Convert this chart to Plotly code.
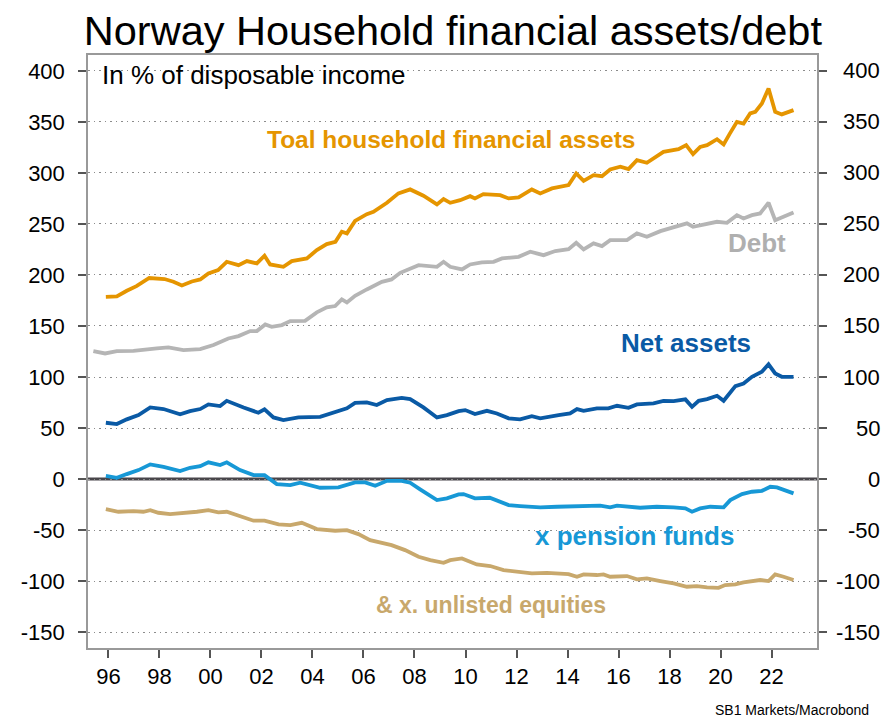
import plotly.graph_objects as go

# Quarterly-ish readings, decimal years, % of disposable income
assets_x = [1995.9, 1996.33, 1996.72, 1997.1, 1997.6, 1998.2, 1998.55, 1998.88, 1999.27, 1999.6,
            1999.92, 2000.3, 2000.64, 2001.1, 2001.43, 2001.82, 2002.12, 2002.34, 2002.86, 2003.19,
            2003.78, 2004.17, 2004.56, 2004.9, 2005.15, 2005.35, 2005.67, 2006.13, 2006.39, 2006.92,
            2007.37, 2007.83, 2008.35, 2008.88, 2009.14, 2009.4, 2009.79, 2010.18, 2010.37, 2010.7,
            2011.36, 2011.69, 2012.08, 2012.6, 2012.93, 2013.39, 2014.04, 2014.34, 2014.63, 2015.02,
            2015.35, 2015.67, 2016.07, 2016.39, 2016.72, 2017.11, 2017.76, 2018.35, 2018.65, 2018.92,
            2019.2, 2019.47, 2019.86, 2020.12, 2020.35, 2020.64, 2020.9, 2021.16, 2021.36, 2021.62,
            2021.88, 2022.14, 2022.4, 2022.86]
assets = [178.6, 179, 184.5, 189, 197, 196, 193.3, 189.7, 193.6, 195.6,
          201.5, 204.7, 212.9, 209.6, 213.6, 211.3, 218.8, 210.3, 208, 213.6,
          216.2, 224.3, 230.2, 232.5, 242.3, 240.7, 253, 259.6, 261.9, 270.7,
          279.9, 283.8, 277.6, 269.1, 274.3, 270.7, 273.3, 277.2, 275, 279.2,
          278.2, 275, 276, 283.8, 279.9, 284.8, 288, 299.5, 292.2, 297.8,
          296.8, 303.4, 306, 303.7, 312.5, 309.9, 320.6, 323.3, 327.2, 318.4,
          325.5, 327.2, 333, 327.9, 338, 350, 348.4, 358.2, 359.8, 368,
          382.7, 359.8, 357.3, 361.5]

debt_x = [1995.41, 1995.87, 1996.33, 1996.98, 1997.9, 1998.35, 1998.94, 1999.6, 2000.12, 2000.7,
          2001.1, 2001.56, 2001.82, 2002.15, 2002.4, 2002.8, 2003.13, 2003.71, 2004.17, 2004.56,
          2004.89, 2005.15, 2005.35, 2005.67, 2006.13, 2006.72, 2007.1, 2007.44, 2008.16, 2008.88,
          2009.14, 2009.4, 2009.86, 2010.18, 2010.64, 2011.1, 2011.43, 2012.08, 2012.54, 2013.06,
          2013.52, 2014.04, 2014.34, 2014.63, 2015.02, 2015.35, 2015.67, 2016.33, 2016.72, 2017.11,
          2017.64, 2018.16, 2018.68, 2018.92, 2019.47, 2019.86, 2020.25, 2020.64, 2020.9, 2021.23,
          2021.55, 2021.88, 2022.14, 2022.47, 2022.86]
debt = [125.4, 123.1, 125.4, 125.7, 128, 129, 126.4, 127.4, 131.3, 137.8,
        140.1, 145, 145, 151.5, 149.2, 150.9, 154.8, 155.1, 163.3, 168.2,
        169.5, 176, 173.1, 179.6, 185.8, 193.3, 195.6, 202.1, 209.6, 208,
        212.9, 208, 205.4, 210.3, 212.3, 212.9, 216.2, 217.8, 222.7, 219.4,
        223.4, 225.3, 231.5, 225, 230.9, 228.3, 234.1, 234.1, 240.7, 237.4,
        242.9, 246.5, 250.5, 247.2, 249.8, 252.1, 251.1, 258.6, 255.4, 258.6,
        260.3, 270.7, 253.7, 257, 261.3]

net_x = [1995.9, 1996.33, 1996.72, 1997.18, 1997.64, 1998.16, 1998.81, 1999.2, 1999.6, 1999.92,
         2000.38, 2000.64, 2001.3, 2001.88, 2002.12, 2002.47, 2002.86, 2003.45, 2004.3, 2004.82,
         2005.35, 2005.67, 2006.13, 2006.52, 2006.92, 2007.5, 2007.83, 2008.35, 2008.88, 2009.27,
         2009.73, 2009.99, 2010.37, 2010.84, 2011.23, 2011.69, 2012.14, 2012.6, 2012.93, 2013.65,
         2014.1, 2014.37, 2014.63, 2015.15, 2015.6, 2015.94, 2016.39, 2016.72, 2017.37, 2017.76,
         2018.16, 2018.62, 2018.88, 2019.14, 2019.47, 2019.86, 2020.12, 2020.58, 2020.9, 2021.23,
         2021.62, 2021.88, 2022.14, 2022.4, 2022.86]
net = [55.2, 53.9, 58.5, 62.7, 70.2, 68.6, 63.4, 66.6, 68.6, 73.2,
       71.5, 76.7, 70.2, 65, 68.3, 60.4, 57.8, 60.4, 61, 65,
       69.3, 74.7, 75.1, 72.5, 77.4, 79.6, 78.4, 70.2, 60.4, 62.7,
       66.6, 67.6, 63.7, 66.9, 64.3, 59.5, 58.5, 61.7, 59.5, 62.7,
       64.3, 68.6, 66.9, 69.3, 69.3, 71.8, 69.8, 73.2, 74.2, 76.7,
       76.4, 78.1, 70.8, 76.7, 78.4, 81.6, 76.7, 91.1, 93.7, 100.2,
       105.1, 112.4, 103.5, 100.2, 100.2]

pension_x = [1995.9, 1996.33, 1996.72, 1997.18, 1997.64, 1998.16, 1998.81, 1999.2, 1999.6, 1999.92,
             2000.38, 2000.64, 2001.16, 2001.69, 2002.12, 2002.6, 2003.13, 2003.52, 2004.3, 2005.02,
             2005.67, 2006.07, 2006.46, 2006.92, 2007.5, 2007.83, 2008.22, 2008.88, 2009.27, 2009.73,
             2009.92, 2010.37, 2010.95, 2011.69, 2012.14, 2012.93, 2013.59, 2014.63, 2015.28, 2015.67,
             2015.94, 2016.85, 2017.5, 2018.16, 2018.62, 2018.88, 2019.2, 2019.6, 2020.12, 2020.38,
             2020.84, 2021.23, 2021.62, 2021.95, 2022.21, 2022.86]
pension = [3.2, 1.3, 4.9, 8.8, 14.4, 12, 7.8, 11.1, 12.7, 16.4,
           13.7, 16.4, 8.8, 3.9, 3.9, -4.9, -5.9, -3.6, -8.5, -8.1,
           -3.2, -3.2, -6.6, -1.7, -1.7, -3.6, -10.1, -20.6, -18.9, -15,
           -14.7, -18.9, -18.3, -25.5, -26.4, -27.7, -27.1, -26.1, -26.1, -27.7,
           -26.1, -28.1, -27.1, -27.7, -28.7, -32, -28.7, -27.1, -27.7, -20.6,
           -14.7, -12.4, -11.5, -7.5, -8.1, -14]

unlisted_x = [1995.9, 1996.39, 1996.98, 1997.37, 1997.64, 1997.96, 1998.42, 1998.88, 1999.47, 1999.92,
              2000.31, 2000.64, 2001.16, 2001.69, 2002.12, 2002.67, 2003.13, 2003.58, 2004.17, 2004.89,
              2005.35, 2005.8, 2006.26, 2006.72, 2007.1, 2007.63, 2008.16, 2008.62, 2009.14, 2009.4,
              2009.86, 2010.44, 2010.97, 2011.49, 2012.14, 2012.6, 2013.19, 2014.04, 2014.37, 2014.63,
              2015.15, 2015.41, 2015.67, 2016.33, 2016.72, 2017.11, 2017.64, 2018.16, 2018.68, 2019.07,
              2019.47, 2019.92, 2020.18, 2020.58, 2020.9, 2021.55, 2021.88, 2022.14, 2022.47, 2022.86]
unlisted = [-29.4, -32, -31.3, -32, -30.4, -33, -34.3, -33.6, -32, -30.4,
            -32.6, -32, -36.2, -40.8, -40.8, -44.4, -45.1, -42.8, -49, -50.6,
            -50, -53.9, -59.8, -63, -64.7, -69.6, -76.1, -79.4, -82, -79.4,
            -77.7, -83.6, -85.2, -89.1, -90.8, -92.4, -91.8, -93.1, -95.7, -93.4,
            -94, -93.4, -95.7, -95, -98.3, -97.3, -99.9, -102.2, -105.5, -104.8,
            -106.1, -106.5, -103.8, -103.2, -101.2, -98.9, -99.9, -93.4, -95.7, -98.9]

year_ticks = list(range(1996, 2023, 2))
year_labels = [str(y)[2:] for y in year_ticks]
y_ticks = list(range(-150, 401, 50))
y_labels = [str(v) for v in y_ticks]  # plain hyphen minus, like the original

FONT = "Liberation Sans, Arial, sans-serif"
C_ASSETS = "#E59500"
C_DEBT = "#B5B5B5"
C_NET = "#0A5AA5"
C_PENSION = "#1798D6"
C_UNLISTED = "#C8A86C"

fig = go.Figure()
series = [
    (debt_x, debt, C_DEBT),
    (unlisted_x, unlisted, C_UNLISTED),
    (pension_x, pension, C_PENSION),
    (net_x, net, C_NET),
    (assets_x, assets, C_ASSETS),
]
for xs, ys, col in series:
    fig.add_trace(go.Scatter(x=xs, y=ys, mode="lines", line=dict(color=col, width=3.8),
                             showlegend=False, hoverinfo="skip"))

# invisible trace to carry the right axis
fig.add_trace(go.Scatter(x=[assets_x[0]], y=[assets[0]], yaxis="y2", mode="lines",
                         line=dict(width=0), showlegend=False, hoverinfo="skip"))

y_range = [-165.5, 415.5]
axis_common = dict(
    range=y_range, tickvals=y_ticks, ticktext=y_labels, ticks="outside", ticklen=8, tickwidth=1.5,
    tickcolor="#555", tickfont=dict(size=22, color="#000", family=FONT), ticklabelstandoff=9,
    showline=True, linecolor="#999", linewidth=1.5, zeroline=False, automargin=False,
)
# page body has an 8px margin, so the figure is sized to fit the window
fig.update_layout(
    width=881, height=709,
    margin=dict(l=80, r=72, t=47, b=69),
    paper_bgcolor="white", plot_bgcolor="white",
    font=dict(family=FONT, color="#000"),
    title=dict(text="Norway Household financial assets/debt", x=0.505, xanchor="center",
               y=0.969, yanchor="middle", font=dict(size=41.5, family=FONT, color="#000")),
    xaxis=dict(range=[1995.2, 2023.78], tickvals=year_ticks, ticktext=year_labels,
               ticks="outside", ticklen=8, tickwidth=1.5, tickcolor="#555",
               tickfont=dict(size=22, family=FONT, color="#000"),
               showline=True, linecolor="#999", linewidth=1.5, mirror=True,
               showgrid=False, zeroline=False, automargin=False),
    yaxis=dict(**axis_common, showgrid=True, gridcolor="#8c8c8c", griddash="1.5px,4px", gridwidth=1.2),
    yaxis2=dict(**axis_common, overlaying="y", side="right", showgrid=False, showticklabels=False),
)

# right-hand tick labels are right-aligned in the original
for val, txt in zip(y_ticks, y_labels):
    fig.add_annotation(x=1, y=val, xref="paper", yref="y", xanchor="right", yanchor="middle",
                       xshift=65, text=txt, showarrow=False,
                       font=dict(size=22, color="#000", family=FONT))

# zero line
fig.add_shape(type="line", xref="paper", x0=0, x1=1, yref="y", y0=0, y1=0,
              line=dict(color="#48454a", width=3), layer="below")

labels = [
    ("In % of disposable income", 1995.68, 396, "#000", False, 26, "left"),
    ("Toal household financial assets", 2009.46, 333, C_ASSETS, True, 24.5, "center"),
    ("Debt", 2021.44, 231, "#AFAFAF", True, 26, "center"),
    ("Net assets", 2018.65, 133, C_NET, True, 26, "center"),
    ("x pension funds", 2016.62, -55.5, C_PENSION, True, 26, "center"),
    ("& x. unlisted equities", 2011.0, -123.4, C_UNLISTED, True, 23, "center"),
]
for text, x, y, col, bold, size, anchor in labels:
    fig.add_annotation(x=x, y=y, xref="x", yref="y", text=f"<b>{text}</b>" if bold else text,
                       showarrow=False, xanchor=anchor, yanchor="middle",
                       font=dict(size=size, color=col, family=FONT))

fig.add_annotation(x=1, y=0, xref="paper", yref="paper", xanchor="right", yanchor="top",
                   xshift=54, yshift=-52, text="SB1 Markets/Macrobond", showarrow=False,
                   font=dict(size=14, color="#000", family=FONT))

fig.write_html("out.html")
